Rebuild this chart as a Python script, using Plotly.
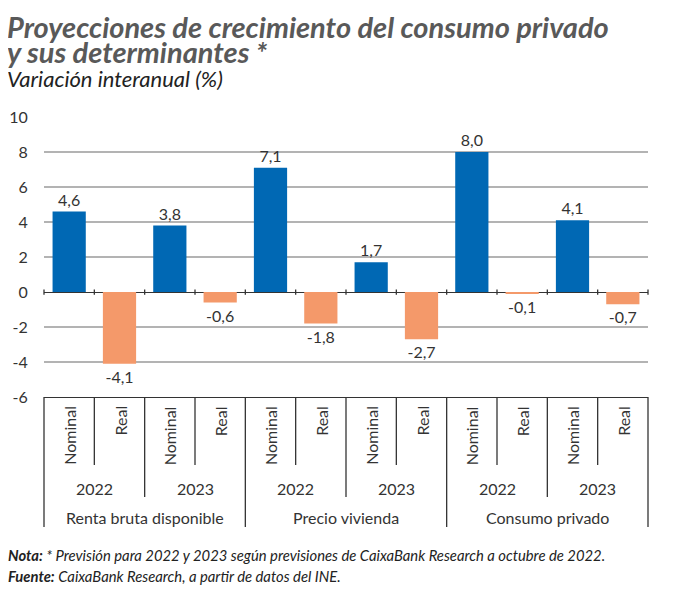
import plotly.graph_objects as go

# chart data
groups = ["Renta bruta disponible", "Precio vivienda", "Consumo privado"]
years = ["2022", "2023"]
kinds = ["Nominal", "Real"]
values = [4.6, -4.1, 3.8, -0.6, 7.1, -1.8, 1.7, -2.7, 8.0, -0.1, 4.1, -0.7]
y_ticks = [-6, -4, -2, 0, 2, 4, 6, 8, 10]

BLUE = "#0068b4"
ORANGE = "#f4996a"
FONT = "Lato"
TXT = "#333333"

n = len(values)
kind_of = [kinds[i % 2] for i in range(n)]
colors = [BLUE if k == "Nominal" else ORANGE for k in kind_of]
labels = [f"{v:.1f}".replace(".", ",") for v in values]

# the page body adds an 8px margin, so the figure is drawn 8px smaller
OFF = 8
W, HT = 682 - OFF, 591 - OFF
LEFT, RIGHT, TOP, BOT = 44 - OFF, 648 - OFF, 117 - OFF, 397 - OFF

def yp(px):
    # reference pixel row -> paper y
    return (BOT - (px - OFF)) / float(BOT - TOP)

def xp(px):
    return ((px - OFF) - LEFT) / float(RIGHT - LEFT)

fig = go.Figure(go.Bar(
    x=list(range(n)), y=values,
    marker=dict(color=colors, line=dict(width=0)),
    text=labels, textposition="outside", cliponaxis=False,
    textfont=dict(family=FONT, size=16, color=TXT),
    hoverinfo="skip",
))

shapes = []
# boundary ticks on the zero line and separators under the axis
for k in range(n + 1):
    xk = k / n
    shapes.append(dict(type="line", xref="paper", yref="y", x0=xk, x1=xk,
                       y0=-0.15, y1=0.15, line=dict(color=TXT, width=1.3)))
    if k % 4 == 0:
        bottom = 527
    elif k % 2 == 0:
        bottom = 497
    else:
        bottom = 465
    shapes.append(dict(type="line", xref="paper", yref="paper", x0=xk, x1=xk,
                       y0=0, y1=yp(bottom), line=dict(color=TXT, width=1.3)))

annotations = []
for i, k in enumerate(kind_of):
    annotations.append(dict(x=(i + 0.5) / n, y=yp(404), xref="paper", yref="paper",
                            text=k, textangle=-90, showarrow=False,
                            xanchor="center", yanchor="top",
                            font=dict(family=FONT, size=16, color=TXT)))
for j in range(len(groups) * len(years)):
    annotations.append(dict(x=(2 * j + 1) / n, y=yp(488), xref="paper", yref="paper",
                            text=years[j % 2], showarrow=False,
                            xanchor="center", yanchor="middle",
                            font=dict(family=FONT, size=16, color=TXT)))
for g, name in enumerate(groups):
    annotations.append(dict(x=(4 * g + 2) / n, y=yp(517), xref="paper", yref="paper",
                            text=name, showarrow=False,
                            xanchor="center", yanchor="middle",
                            font=dict(family=FONT, size=16, color=TXT)))

# title + subtitle in one annotation, line spacing follows the 19px base size
big = "<span style='font-size:29px;color:#595959'><b><i>%s</i></b></span>"
sub = "<span style='font-size:22px;color:#222222'><i>%s</i></span>"
title_text = "<br>".join([
    big % "Proyecciones de crecimiento del consumo privado",
    big % "y sus determinantes *",
    sub % "Variación interanual (%)",
])
annotations += [
    dict(x=xp(6), y=yp(8), xref="paper", yref="paper", xanchor="left", yanchor="top",
         text=title_text, align="left", showarrow=False, borderpad=0,
         font=dict(family=FONT, size=19, color="#595959")),
    dict(x=xp(6), y=yp(555), xref="paper", yref="paper", xanchor="left", yanchor="middle",
         text="<b><i>Nota:</i></b><i> * Previsión para 2022 y 2023 según previsiones de CaixaBank Research a octubre de 2022.</i>",
         showarrow=False, font=dict(family=FONT, size=14.8, color="#222222")),
    dict(x=xp(6), y=yp(576), xref="paper", yref="paper", xanchor="left", yanchor="middle",
         text="<b><i>Fuente:</i></b><i> CaixaBank Research, a partir de datos del INE.</i>",
         showarrow=False, font=dict(family=FONT, size=14.8, color="#222222")),
]

fig.update_layout(
    width=W, height=HT,
    margin=dict(l=LEFT, r=W - RIGHT, t=TOP, b=HT - BOT),
    paper_bgcolor="white", plot_bgcolor="white",
    bargap=0.34, showlegend=False,
    shapes=shapes, annotations=annotations,
    font=dict(family=FONT, size=16, color=TXT),
)
fig.update_xaxes(range=[-0.5, n - 0.5], showticklabels=False, showgrid=False,
                 zeroline=False, showline=True, linecolor=TXT, linewidth=1.3,
                 ticks="", fixedrange=True, automargin=False)
fig.update_yaxes(range=[-6, 10], tickvals=y_ticks, ticktext=[str(t) for t in y_ticks],
                 showgrid=True, gridcolor="#b3b3b3", gridwidth=1.5,
                 zeroline=True, zerolinecolor=TXT, zerolinewidth=1.3,
                 showline=False, ticks="outside", ticklen=12, tickcolor="rgba(0,0,0,0)",
                 tickfont=dict(family=FONT, size=16, color=TXT), fixedrange=True,
                 automargin=False)

fig.write_html("out.html")
